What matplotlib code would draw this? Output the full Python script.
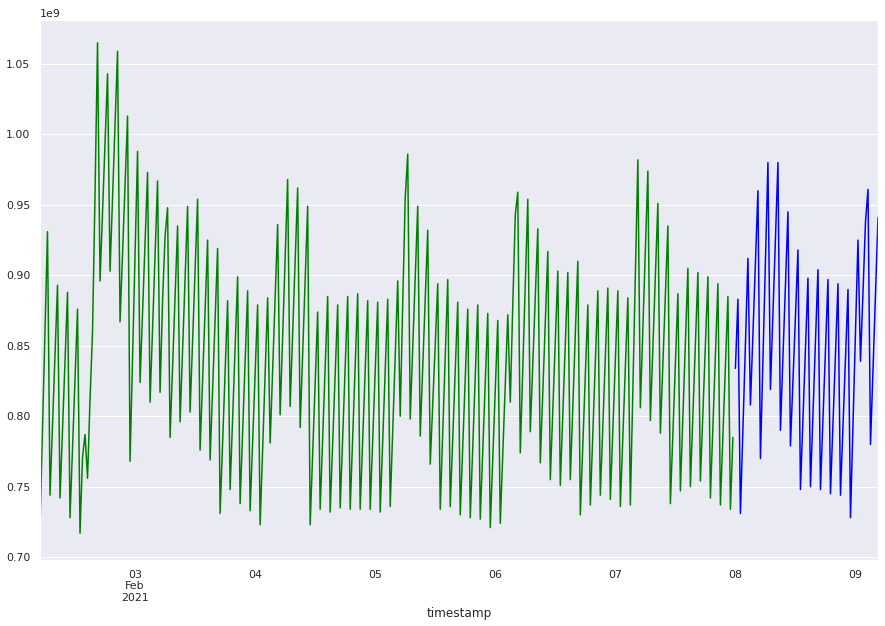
"""
Train / test series over timestamp
"""
import numpy as np
import pandas as pd
import seaborn as sns
from matplotlib import pyplot as plt

# half-hourly values, units of 1e9
train_start = '2021-02-02 05:00'
train_values = [
	0.721, 0.790, 0.860, 0.931, 0.744, 0.793, 0.843, 0.893,
	0.742, 0.791, 0.840, 0.888, 0.728, 0.777, 0.826, 0.876,
	0.717, 0.771, 0.787, 0.756, 0.812, 0.860, 0.958, 1.065,
	0.896, 0.945, 0.994, 1.043, 0.903, 0.955, 1.007, 1.059,
	0.867, 0.916, 0.964, 1.013, 0.768, 0.841, 0.915, 0.988,
	0.824, 0.874, 0.923, 0.973, 0.810, 0.862, 0.915, 0.967,
	0.817, 0.882, 0.928, 0.948, 0.785, 0.835, 0.885, 0.935,
	0.796, 0.847, 0.898, 0.949, 0.803, 0.853, 0.904, 0.954,
	0.776, 0.826, 0.875, 0.925, 0.769, 0.819, 0.869, 0.919,
	0.731, 0.782, 0.832, 0.882, 0.748, 0.798, 0.849, 0.899,
	0.738, 0.788, 0.838, 0.889, 0.733, 0.782, 0.831, 0.879,
	0.723, 0.776, 0.830, 0.884, 0.781, 0.833, 0.884, 0.936,
	0.801, 0.856, 0.912, 0.968, 0.807, 0.859, 0.910, 0.962,
	0.792, 0.844, 0.896, 0.949, 0.723, 0.773, 0.824, 0.874,
	0.734, 0.784, 0.835, 0.885, 0.732, 0.781, 0.830, 0.879,
	0.735, 0.785, 0.835, 0.885, 0.734, 0.785, 0.836, 0.887,
	0.734, 0.783, 0.832, 0.882, 0.734, 0.783, 0.832, 0.881,
	0.732, 0.782, 0.832, 0.883, 0.736, 0.789, 0.842, 0.896,
	0.800, 0.880, 0.955, 0.986, 0.798, 0.848, 0.898, 0.949,
	0.786, 0.835, 0.883, 0.932, 0.766, 0.808, 0.851, 0.894,
	0.734, 0.788, 0.843, 0.897, 0.736, 0.784, 0.833, 0.881,
	0.730, 0.779, 0.827, 0.876, 0.728, 0.778, 0.829, 0.879,
	0.727, 0.776, 0.824, 0.873, 0.721, 0.770, 0.819, 0.868,
	0.724, 0.773, 0.823, 0.872, 0.810, 0.879, 0.943, 0.959,
	0.774, 0.834, 0.894, 0.954, 0.789, 0.837, 0.885, 0.933,
	0.767, 0.817, 0.867, 0.917, 0.755, 0.804, 0.854, 0.903,
	0.751, 0.801, 0.851, 0.902, 0.755, 0.807, 0.858, 0.910,
	0.730, 0.780, 0.830, 0.879, 0.737, 0.788, 0.838, 0.889,
	0.744, 0.793, 0.842, 0.891, 0.741, 0.790, 0.839, 0.889,
	0.736, 0.785, 0.834, 0.884, 0.737, 0.818, 0.900, 0.982,
	0.806, 0.862, 0.918, 0.974, 0.797, 0.848, 0.900, 0.951,
	0.788, 0.837, 0.886, 0.935, 0.738, 0.788, 0.837, 0.887,
	0.747, 0.800, 0.853, 0.905, 0.750, 0.800, 0.851, 0.902,
	0.754, 0.802, 0.851, 0.899, 0.742, 0.792, 0.843, 0.894,
	0.737, 0.786, 0.835, 0.885, 0.734, 0.785,
]

test_start = '2021-02-08 00:00'
test_values = [
	0.834, 0.883, 0.731, 0.791, 0.851, 0.912, 0.808, 0.858,
	0.909, 0.960, 0.770, 0.840, 0.910, 0.980, 0.819, 0.873,
	0.926, 0.980, 0.790, 0.842, 0.893, 0.945, 0.779, 0.825,
	0.871, 0.918, 0.748, 0.798, 0.848, 0.898, 0.750, 0.801,
	0.853, 0.904, 0.748, 0.798, 0.847, 0.897, 0.745, 0.795,
	0.844, 0.894, 0.744, 0.793, 0.841, 0.890, 0.728, 0.794,
	0.860, 0.925, 0.839, 0.888, 0.938, 0.961, 0.780, 0.833,
	0.887, 0.941,
]

day_ticks = pd.date_range('2021-02-03', '2021-02-09', freq='D')

sns.set_theme(style='darkgrid')
plt.rcParams['font.family'] = ['DejaVu Sans']

train = pd.Series(np.array(train_values) * 1e9,
	index=pd.date_range(train_start, periods=len(train_values), freq='30min'))
test = pd.Series(np.array(test_values) * 1e9,
	index=pd.date_range(test_start, periods=len(test_values), freq='30min'))

fig = plt.figure(figsize=(885 / 72, 626 / 72), dpi=72)
ax = fig.add_axes([40 / 885, 1 - 560 / 626, 838 / 885, 540 / 626])

ax.plot(train.index, train.values, color='green', lw=1.5)
ax.plot(test.index, test.values, color='blue', lw=1.5)

ax.set_xlim(train.index[0], test.index[-1])
ax.set_ylim(0.698e9, 1.0812e9)

# pandas-like date labels: first tick carries month and year
labels = []
for i, d in enumerate(day_ticks):
	if i == 0:
		labels.append(d.strftime('%d\n%b\n%Y'))
	else:
		labels.append(d.strftime('%d'))
ax.set_xticks(day_ticks)
ax.set_xticklabels(labels)
ax.xaxis.grid(False)
ax.set_xlabel('timestamp')

plt.savefig('out.png', dpi=72)
